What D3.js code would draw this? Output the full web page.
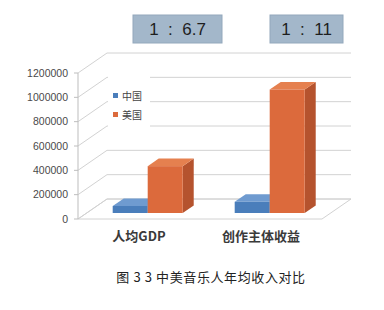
<!DOCTYPE html>
<html>
<head>
<meta charset="utf-8">
<script src="https://cdn.jsdelivr.net/npm/d3@7"></script>
<style>
  body { margin: 0; background: #fff; }
  svg { display: block; font-family: "Liberation Sans", Arial, sans-serif; }
  .tick-label { font-size: 10.5px; fill: #4a4a4a; }
  .cat-label { font-family: "Noto Sans CJK SC", sans-serif; font-size: 13px; font-weight: bold; fill: #3a3a3a; }
  .legend-label { font-family: "Noto Sans CJK SC", sans-serif; font-size: 10px; fill: #444; }
  .ratio { font-size: 17px; fill: #1e1e1e; white-space: pre; }
  .caption { font-family: "Noto Sans CJK SC", sans-serif; font-size: 13px; fill: #222; letter-spacing: 0.6px; }
  .grid { stroke: #d2d2d2; stroke-width: 1; fill: none; }
</style>
</head>
<body>
<div id="chart"></div>
<script>
const categories = ['人均GDP', '创作主体收益'];
const series = ['中国', '美国'];
const chinaValues = [57500, 92000];
const usValues = [385000, 1015000];
const ratioLabels = ['1  :  6.7', '1  :  11'];
const yTicks = [0, 200000, 400000, 600000, 800000, 1000000, 1200000];
const caption = '图 3 3 中美音乐人年均收入对比';

const width = 384;
const height = 310;

// front plane of the 3d box
const plotLeft = 78, plotRight = 322, plotBottom = 219, plotTop = 73;
// offset of the back wall
const depthX = 29, depthY = -20;
// bars sit between these depth fractions
const barZ0 = 0.3, barZ1 = 0.68;
const barWidth = 35;

const colors = {
  '中国': {front: '#4a7ebb', top: '#6f9bd0', side: '#3b659a'},
  '美国': {front: '#dc6a3c', top: '#e5804f', side: '#b5532e'}
};

let svg = d3.select('#chart').append('svg')
  .attr('width', width)
  .attr('height', height)

let y = d3.scaleLinear()
  .domain([0, 1200000])
  .range([plotBottom, plotTop])

let x0 = d3.scaleBand()
  .domain(categories)
  .range([plotLeft, plotRight])

let x1 = d3.scaleBand()
  .domain(series)
  .range([0, barWidth * series.length])

let inner = (x0.bandwidth() - barWidth * series.length) / 2;

// project a point at depth z (0 = front, 1 = back)
let px = (xv, z) => xv + z * depthX;
let py = (yv, z) => yv + z * depthY;

let grid = svg.append('g')

// back wall gridlines and diagonals on the side wall
yTicks.forEach(t => {
  grid.append('line').classed('grid', true)
    .attr('x1', px(plotLeft, 1)).attr('y1', py(y(t), 1))
    .attr('x2', px(plotRight, 1)).attr('y2', py(y(t), 1))
  grid.append('line').classed('grid', true)
    .attr('x1', plotLeft).attr('y1', y(t))
    .attr('x2', px(plotLeft, 1)).attr('y2', py(y(t), 1))
})

// floor
grid.append('path').classed('grid', true)
  .attr('d', d3.line()([
    [plotLeft, y(0)], [plotRight, y(0)], [px(plotRight, 1), py(y(0), 1)], [px(plotLeft, 1), py(y(0), 1)]
  ]) + 'Z')

// value axis
let axis = svg.append('g')
axis.append('line')
  .attr('x1', plotLeft).attr('x2', plotLeft)
  .attr('y1', y(1200000)).attr('y2', y(0))
  .attr('stroke', '#bdbdbd')

yTicks.forEach(t => {
  axis.append('line')
    .attr('x1', plotLeft - 4).attr('x2', plotLeft)
    .attr('y1', y(t)).attr('y2', y(t))
    .attr('stroke', '#bdbdbd')
  axis.append('text')
    .classed('tick-label', true)
    .attr('x', plotLeft - 10)
    .attr('y', y(t) + 3.5)
    .attr('text-anchor', 'end')
    .text(t)
})

// bars
let data = [];
categories.forEach((c, i) => {
  data.push({cat: c, s: '中国', v: chinaValues[i]});
  data.push({cat: c, s: '美国', v: usValues[i]});
})

let bars = svg.append('g')
data.forEach(d => {
  let xa = x0(d.cat) + inner + x1(d.s);
  let xb = xa + barWidth;
  let yb = y(0), yt = y(d.v);
  let c = colors[d.s];
  let poly = pts => d3.line()(pts) + 'Z';

  bars.append('path')
    .attr('fill', c.side)
    .attr('d', poly([
      [px(xb, barZ0), py(yb, barZ0)], [px(xb, barZ1), py(yb, barZ1)],
      [px(xb, barZ1), py(yt, barZ1)], [px(xb, barZ0), py(yt, barZ0)]
    ]))
  bars.append('path')
    .attr('fill', c.top)
    .attr('d', poly([
      [px(xa, barZ0), py(yt, barZ0)], [px(xb, barZ0), py(yt, barZ0)],
      [px(xb, barZ1), py(yt, barZ1)], [px(xa, barZ1), py(yt, barZ1)]
    ]))
  bars.append('rect')
    .attr('fill', c.front)
    .attr('x', px(xa, barZ0))
    .attr('y', py(yt, barZ0))
    .attr('width', barWidth)
    .attr('height', yb - yt)
})

// legend, sits on a white patch over the wall
let legend = svg.append('g')
legend.append('rect')
  .attr('x', px(plotLeft, 1) + 1).attr('y', 70)
  .attr('width', 42).attr('height', 64)
  .attr('fill', '#fff')

series.forEach((s, i) => {
  legend.append('rect')
    .attr('x', 113).attr('y', 93 + i * 19)
    .attr('width', 5).attr('height', 5)
    .attr('fill', colors[s].front)
  legend.append('text')
    .classed('legend-label', true)
    .attr('x', 122).attr('y', 99.5 + i * 19)
    .text(s)
})

// category labels
svg.selectAll('.cat-label')
  .data(categories)
  .enter().append('text')
    .classed('cat-label', true)
    .attr('x', d => x0(d) + x0.bandwidth() / 2)
    .attr('y', 241)
    .attr('text-anchor', 'middle')
    .text(d => d)

// ratio boxes above the chart
let boxW = [89, 73];
let boxX = [133, 270];
ratioLabels.forEach((r, i) => {
  svg.append('rect')
    .attr('x', boxX[i]).attr('y', 15)
    .attr('width', boxW[i]).attr('height', 28)
    .attr('fill', '#a3b7ca')
    .attr('stroke', '#93a8bc')
  svg.append('text')
    .classed('ratio', true)
    .attr('x', boxX[i] + boxW[i] / 2)
    .attr('y', 35)
    .attr('text-anchor', 'middle')
    .text(r)
})

svg.append('text')
  .classed('caption', true)
  .attr('x', 211)
  .attr('y', 282)
  .attr('text-anchor', 'middle')
  .text(caption)
</script>
</body>
</html>
